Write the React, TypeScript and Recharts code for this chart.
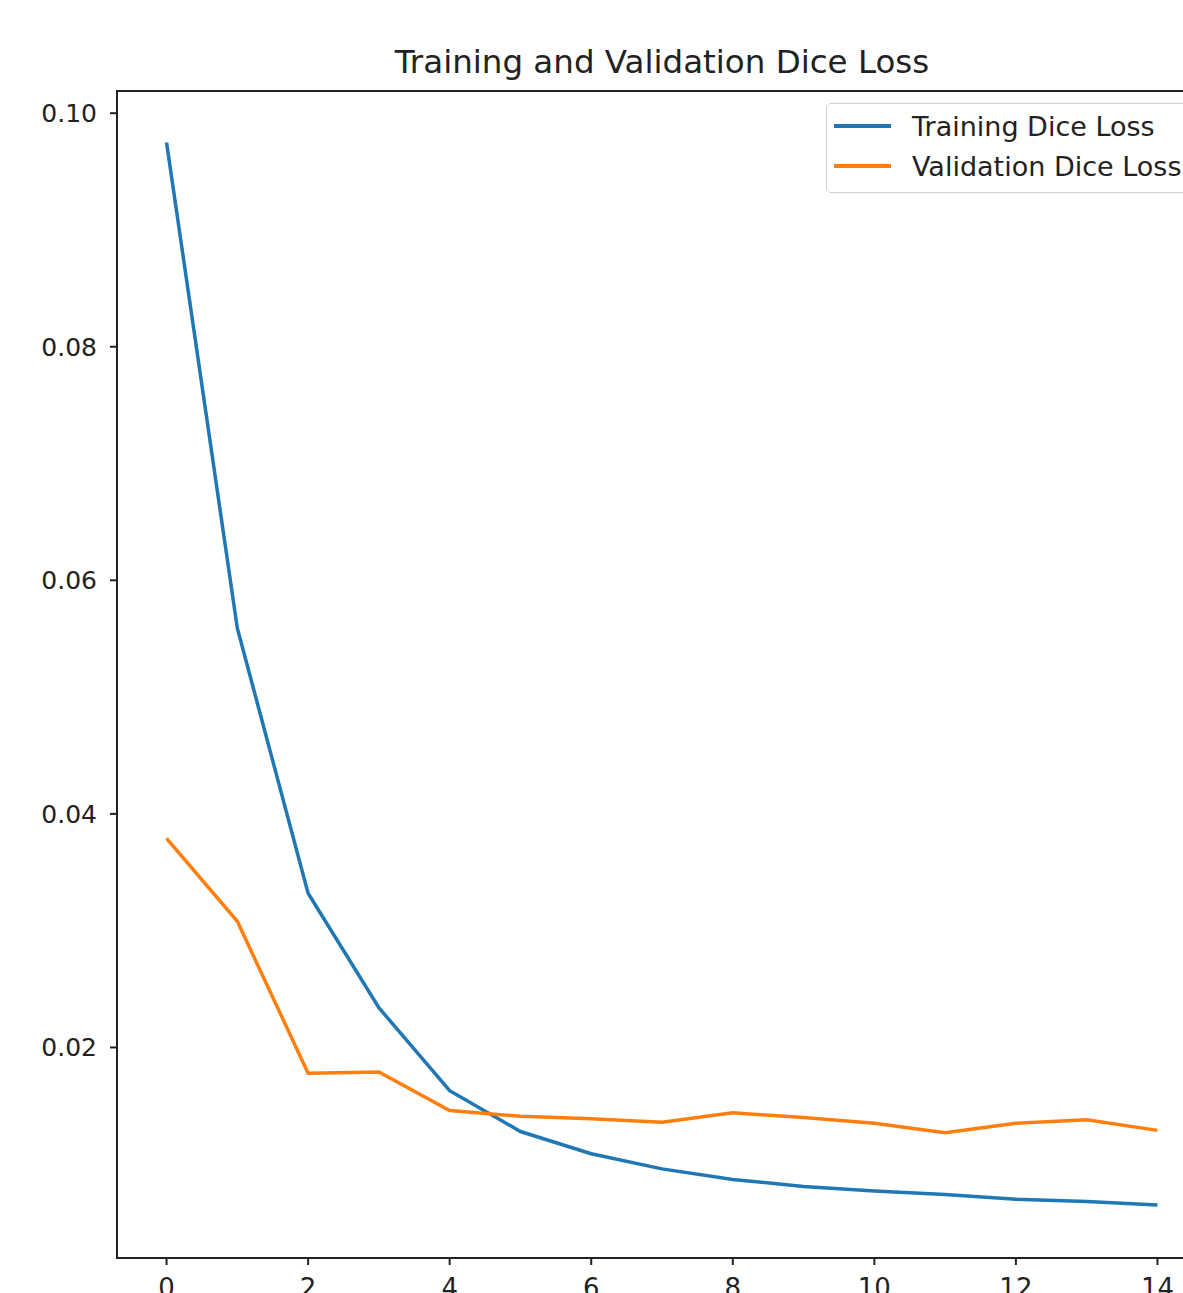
import {
  Legend,
  Line,
  LineChart,
  ReferenceArea,
  XAxis,
  YAxis,
} from "recharts";

const epochs = [0, 1, 2, 3, 4, 5, 6, 7, 8, 9, 10, 11, 12, 13, 14];
const trainingLoss = [
  0.0975, 0.0559, 0.0332, 0.0234, 0.0163, 0.0128, 0.0109, 0.0096, 0.0087,
  0.0081, 0.0077, 0.0074, 0.007, 0.0068, 0.0065,
];
const validationLoss = [
  0.0379, 0.0308, 0.0178, 0.0179, 0.0146, 0.0141, 0.0139, 0.0136, 0.0144,
  0.014, 0.0135, 0.0127, 0.0135, 0.0138, 0.0129,
];
const xTicks = [0, 2, 4, 6, 8, 10, 12, 14];
const yTicks = [0.02, 0.04, 0.06, 0.08, 0.1];

const X_DOMAIN: [number, number] = [-0.7, 14.7];
const Y_DOMAIN: [number, number] = [0.00197, 0.1019];
const FONT = "'DejaVu Sans', sans-serif";
const BLUE = "#1f77b4";
const ORANGE = "#ff7f0e";

function LegendBox({ payload }: any) {
  return (
    <div
      style={{
        width: 420,
        height: 90,
        border: "1px solid #d0d0d0",
        borderRadius: 5,
        background: "#fff",
        boxSizing: "border-box",
        fontFamily: FONT,
        fontSize: 27,
        color: "#222",
        paddingTop: 2,
      }}
    >
      {(payload || []).map((p: any) => (
        <div
          key={p.value}
          style={{ display: "flex", alignItems: "center", height: 40 }}
        >
          <div
            style={{
              width: 57,
              height: 3.5,
              background: p.color,
              marginLeft: 7,
              marginRight: 21,
            }}
          />
          <span style={{ whiteSpace: "nowrap" }}>{p.value}</span>
        </div>
      ))}
    </div>
  );
}

export default function App() {
  const data = epochs.map((e, i) => ({
    epoch: e,
    train: trainingLoss[i],
    val: validationLoss[i],
  }));

  return (
    <div
      style={{
        position: "fixed",
        left: 0,
        top: 0,
        width: 1183,
        height: 1293,
        overflow: "hidden",
        background: "#fff",
      }}
    >
      <div
        style={{
          position: "absolute",
          top: 42,
          left: 117,
          width: 1090,
          textAlign: "center",
          fontFamily: FONT,
          fontSize: 32.5,
          color: "#222",
          lineHeight: "40px",
        }}
      >
        Training and Validation Dice Loss
      </div>
      <div style={{ position: "absolute", left: 0, top: 0 }}>
        <LineChart
          width={1230}
          height={1298}
          data={data}
          margin={{ top: 91, right: 23, left: 0, bottom: 0 }}
        >
          <XAxis
            dataKey="epoch"
            type="number"
            domain={X_DOMAIN}
            ticks={xTicks}
            allowDataOverflow
            height={40}
            tickSize={7}
            tickMargin={14}
            axisLine={false}
            tickLine={{ stroke: "#222", strokeWidth: 2 }}
            tick={{ fill: "#222", fontFamily: FONT, fontSize: 26 }}
          />
          <YAxis
            type="number"
            domain={Y_DOMAIN}
            ticks={yTicks}
            allowDataOverflow
            width={117}
            tickSize={7}
            tickMargin={13}
            axisLine={false}
            tickLine={{ stroke: "#222", strokeWidth: 2 }}
            tick={{ fill: "#222", fontFamily: FONT, fontSize: 25 }}
            tickFormatter={(v: number) => v.toFixed(2)}
          />
          <ReferenceArea
            x1={X_DOMAIN[0]}
            x2={X_DOMAIN[1]}
            y1={Y_DOMAIN[0]}
            y2={Y_DOMAIN[1]}
            fill="none"
            stroke="#222"
            strokeWidth={2}
            ifOverflow="extendDomain"
          />
          <Line
            type="linear"
            dataKey="train"
            name="Training Dice Loss"
            stroke={BLUE}
            strokeWidth={3.5}
            dot={false}
            activeDot={false}
            isAnimationActive={false}
          />
          <Line
            type="linear"
            dataKey="val"
            name="Validation Dice Loss"
            stroke={ORANGE}
            strokeWidth={3.5}
            dot={false}
            activeDot={false}
            isAnimationActive={false}
          />
          <Legend
            layout="horizontal"
            verticalAlign="middle"
            align="center"
            content={<LegendBox />}
            wrapperStyle={{ top: 103, left: 826, width: 420 }}
          />
        </LineChart>
      </div>
    </div>
  );
}
